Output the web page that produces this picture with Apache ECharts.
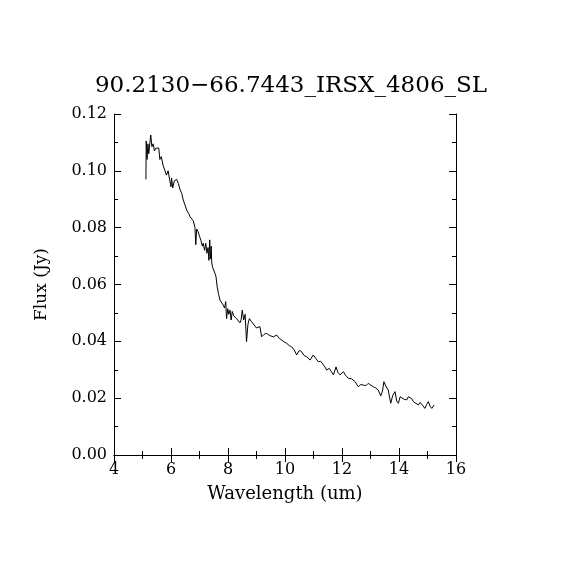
<!DOCTYPE html>
<html style="height: 100%">
<head>
<meta charset="utf-8">
<title>90.2130-66.7443_IRSX_4806_SL</title>
<script src="https://cdn.jsdelivr.net/npm/echarts@6/dist/echarts.min.js"></script>
</head>
<body style="height: 100%; margin: 0; background: #fff">
<div id="main" style="width: 570px; height: 570px"></div>
<script type="text/javascript">
// wavelength (um) and flux (Jy)
var wave = [5.12, 5.13, 5.16, 5.19, 5.22, 5.26, 5.29, 5.33, 5.37, 5.42, 5.47, 5.52, 5.57, 5.61, 5.66, 5.72, 5.79, 5.84, 5.9, 5.95, 6.0, 6.02, 6.06, 6.12, 6.2, 6.26, 6.32, 6.38, 6.43, 6.49, 6.55, 6.62, 6.67, 6.72, 6.78, 6.84, 6.87, 6.9, 6.95, 7.0, 7.05, 7.1, 7.13, 7.18, 7.22, 7.26, 7.3, 7.33, 7.36, 7.38, 7.41, 7.43, 7.46, 7.5, 7.54, 7.58, 7.62, 7.67, 7.72, 7.78, 7.83, 7.88, 7.92, 7.95, 7.99, 8.03, 8.07, 8.11, 8.15, 8.2, 8.25, 8.3, 8.36, 8.42, 8.46, 8.5, 8.55, 8.6, 8.65, 8.7, 8.75, 8.82, 8.89, 9.0, 9.12, 9.18, 9.27, 9.35, 9.47, 9.59, 9.71, 9.8, 9.88, 9.97, 10.06, 10.15, 10.23, 10.32, 10.41, 10.5, 10.58, 10.67, 10.76, 10.88, 10.99, 11.08, 11.17, 11.25, 11.32, 11.4, 11.46, 11.55, 11.63, 11.7, 11.79, 11.86, 11.93, 12.05, 12.13, 12.22, 12.34, 12.46, 12.57, 12.66, 12.75, 12.84, 12.92, 13.01, 13.1, 13.18, 13.27, 13.36, 13.42, 13.47, 13.55, 13.62, 13.71, 13.78, 13.86, 13.92, 13.98, 14.04, 14.09, 14.18, 14.27, 14.33, 14.39, 14.45, 14.5, 14.59, 14.68, 14.74, 14.79, 14.85, 14.91, 14.97, 15.03, 15.09, 15.15, 15.23];
var flux = [0.097, 0.1105, 0.104, 0.1095, 0.106, 0.110, 0.1126, 0.1085, 0.1095, 0.107, 0.108, 0.1075, 0.108, 0.104, 0.105, 0.102, 0.100, 0.0985, 0.1, 0.097, 0.0944, 0.0975, 0.094, 0.0965, 0.097, 0.0955, 0.0933, 0.092, 0.0897, 0.088, 0.0862, 0.085, 0.0838, 0.0834, 0.0825, 0.080, 0.074, 0.0795, 0.0786, 0.077, 0.0755, 0.0735, 0.0745, 0.072, 0.0745, 0.071, 0.073, 0.0685, 0.0757, 0.069, 0.0735, 0.0676, 0.066, 0.0655, 0.064, 0.0627, 0.0592, 0.0565, 0.0545, 0.0545, 0.0528, 0.0517, 0.054, 0.048, 0.0515, 0.0495, 0.051, 0.0475, 0.0505, 0.049, 0.0495, 0.048, 0.0478, 0.0465, 0.0475, 0.051, 0.0475, 0.0495, 0.0399, 0.046, 0.048, 0.047, 0.0464, 0.0447, 0.0452, 0.0416, 0.0425, 0.0428, 0.042, 0.0416, 0.0422, 0.041, 0.0405, 0.0398, 0.0393, 0.0385, 0.0381, 0.037, 0.0352, 0.0368, 0.0364, 0.035, 0.0346, 0.0334, 0.0352, 0.034, 0.0328, 0.033, 0.0334, 0.031, 0.0299, 0.0305, 0.0293, 0.0282, 0.031, 0.029, 0.0282, 0.0293, 0.028, 0.027, 0.0268, 0.0258, 0.024, 0.0248, 0.0246, 0.0244, 0.0252, 0.0246, 0.024, 0.0236, 0.0229, 0.0208, 0.0225, 0.0258, 0.024, 0.0229, 0.0182, 0.021, 0.0223, 0.019, 0.0182, 0.0205, 0.020, 0.0196, 0.0194, 0.0205, 0.0211, 0.0198, 0.0188, 0.0182, 0.0176, 0.0185, 0.0184, 0.0172, 0.0164, 0.0178, 0.0188, 0.0172, 0.0164, 0.0176];
var xTicks = [4, 6, 8, 10, 12, 14, 16];
var yTicks = [0.00, 0.02, 0.04, 0.06, 0.08, 0.10, 0.12];

var pts = [];
for (var i = 0; i < wave.length; i++) {
	pts.push([wave[i], flux[i]]);
}

var myChart = echarts.init(document.getElementById('main'));
var font = 'DejaVu Serif';
var frame = {lineStyle: {color: '#000', width: 1}};
var tickIn = {show: true, inside: true, length: 7, lineStyle: {color: '#000'}};
var minorIn = {show: true, length: 4, splitNumber: 2, lineStyle: {color: '#000'}};

var option = {
	backgroundColor: '#FFFFFF',
	animation: false,
	title: {
		text: '90.2130\u221266.7443_IRSX_4806_SL',
		left: 286,
		top: 70,
		textAlign: 'center',
		textStyle: {fontFamily: font, fontWeight: 'normal', fontSize: 23, color: '#000'}
	},
	grid: {left: 114, top: 114, width: 342, height: 341},
	xAxis: [{
		type: 'value', min: 4, max: 16, interval: 2,
		name: 'Wavelength (um)', nameLocation: 'middle', nameGap: 30,
		nameTextStyle: {fontFamily: font, fontSize: 18, color: '#000'},
		axisLine: frame, axisTick: tickIn, minorTick: minorIn,
		axisLabel: {fontFamily: font, fontSize: 16, color: '#000', margin: 7,
			formatter: function (v) { return xTicks.indexOf(v) >= 0 ? String(v) : ''; }},
		splitLine: {show: false}
	}, {
		type: 'value', position: 'top', min: 4, max: 16, interval: 2,
		axisLine: frame, axisTick: tickIn, minorTick: minorIn,
		axisLabel: {show: false}, splitLine: {show: false}
	}],
	yAxis: [{
		type: 'value', min: 0, max: 0.12, interval: 0.02,
		name: 'Flux (Jy)', nameLocation: 'middle', nameGap: 64,
		nameTextStyle: {fontFamily: font, fontSize: 17, color: '#000'},
		axisLine: frame, axisTick: tickIn, minorTick: minorIn,
		axisLabel: {fontFamily: font, fontSize: 16, color: '#000', margin: 7,
			formatter: function (v) {
				var t = yTicks.filter(function (y) { return Math.abs(y - v) < 1e-9; });
				return t.length ? t[0].toFixed(2) : '';
			}},
		splitLine: {show: false}
	}, {
		type: 'value', position: 'right', min: 0, max: 0.12, interval: 0.02,
		axisLine: frame, axisTick: tickIn, minorTick: minorIn,
		axisLabel: {show: false}, splitLine: {show: false}
	}],
	series: [{
		type: 'line',
		data: pts,
		showSymbol: false,
		symbol: 'none',
		lineStyle: {color: '#000', width: 1},
		xAxisIndex: 0,
		yAxisIndex: 0
	}]
};
myChart.setOption(option);
</script>
</body>
</html>
